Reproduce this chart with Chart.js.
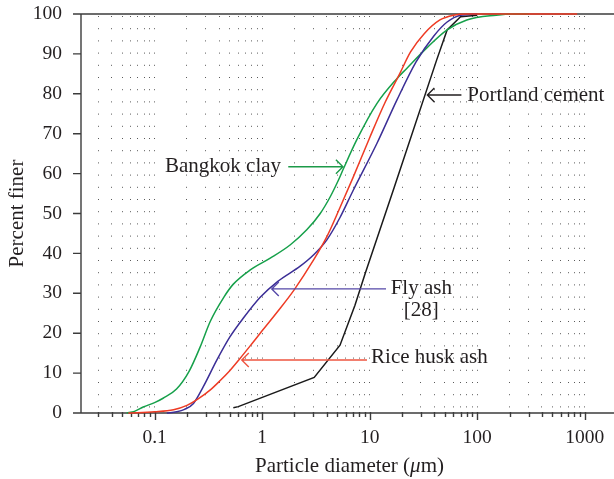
<!DOCTYPE html>
<html>
<head>
<meta charset="utf-8">
<script src="https://cdn.jsdelivr.net/npm/chart.js@4.4.1/dist/chart.umd.min.js"></script>
<style>
  html, body { margin: 0; padding: 0; background: #fff; }
  #wrap { width: 614px; height: 479px; }
</style>
</head>
<body>
<div id="wrap"><canvas id="chart"></canvas></div>
<script>
// Particle size distributions, [diameter (um), percent finer]
const riceHuskAsh = [
    [0.057, 0], [0.1, 0.3], [0.15, 0.8], [0.2, 1.9], [0.25, 3.4], [0.33, 5.8], [0.41, 8.2],
    [0.5, 10.6], [0.62, 13.6], [0.8, 17.3], [1.0, 20.6], [1.4, 25.5], [2.0, 31], [3.0, 38.3],
    [4.0, 44.2], [5.3, 51.5], [7.0, 59], [10, 69], [14, 78], [19, 85], [24, 90.5], [32, 95],
    [45, 98.5], [60, 99.7], [80, 100], [850, 100]
];
const flyAsh = [
    [0.13, 0], [0.16, 0.3], [0.19, 0.9], [0.23, 2.4], [0.284, 6.6], [0.38, 13.3], [0.5, 19],
    [0.67, 23.8], [0.96, 29], [1.4, 33], [2.26, 36.8], [3.0, 39.6],
    [4.0, 43.4], [5.3, 49], [7.0, 55.7], [11.7, 67.6], [17.9, 78.4], [27, 88],
    [39.5, 94.5], [52.5, 98], [70, 99.7], [100, 100]
];
const bangkokClay = [
    [0.055, 0], [0.065, 0.4], [0.0785, 1.5], [0.1, 2.6], [0.12, 3.7], [0.16, 6], [0.21, 10.5],
    [0.265, 16.5], [0.33, 23], [0.44, 29], [0.54, 32.3], [0.77, 35.8],
    [1.19, 38.8], [1.82, 42.1], [2.6, 45.9], [3.47, 50], [4.3, 54.2], [5.13, 58.4], [5.7, 61.2],
    [7.6, 68.5], [11.7, 77.6], [17.9, 83.8], [22, 86.3], [34, 91.5], [52.5, 96], [80, 98.5],
    [150, 99.7], [216, 100], [300, 100]
];
const portlandCement = [
    [0.54, 1.3], [0.6, 1.6], [3.05, 8.9], [5.3, 17], [7.3, 27], [9.1, 35], [16.9, 56.5],
    [42, 88.5], [52.5, 96], [70, 99.3], [100, 99.7]
];

const xTickLabels = [0.1, 1, 10, 100, 1000];
const xMin = 0.0207, xMax = 1870;
const yMin = 0, yMax = 100, yStep = 5;

// arrows + labels, positions in data units
const callouts = [
    { text: ['Portland cement'], color: '#231f20', tail: [71.3, 79.7], tip: [34.4, 79.7], at: [81, 79.7], align: 'left' },
    { text: ['Bangkok clay'], color: '#1c9a48', tail: [1.75, 61.7], tip: [5.64, 61.7], at: [1.5, 61.9], align: 'right' },
    { text: ['Fly ash', '[28]'], color: '#5548a8', tail: [14.2, 31.1], tip: [1.23, 31.1], at: [30.2, 31.1], align: 'center' },
    { text: ['Rice husk ash'], color: '#ee5540', tail: [9.44, 13.3], tip: [0.647, 13.3], at: [10.3, 14], align: 'left' }
];

const SERIF = '"Liberation Serif", "Times New Roman", serif';
const toPts = arr => arr.map(p => ({ x: p[0], y: p[1] }));

// every 1..9 x 10^n inside the axis range
function logGridValues() {
    const vals = [];
    for (let e = -2; e <= 3; e++) {
        for (let m = 1; m <= 9; m++) {
            const v = parseFloat((m * Math.pow(10, e)).toPrecision(6));
            if (v >= xMin && v <= 1000) vals.push(v);
        }
    }
    return vals;
}

const axesPlugin = {
    id: 'axesPlugin',
    beforeDatasetsDraw(chart) {
        const ctx = chart.ctx, a = chart.chartArea;
        const sx = chart.scales.x, sy = chart.scales.y;
        ctx.save();
        ctx.strokeStyle = '#3c3c3c';
        ctx.lineWidth = 1.4;
        ctx.beginPath();
        ctx.moveTo(a.left, a.top); ctx.lineTo(a.right, a.top);
        ctx.moveTo(a.left, a.top); ctx.lineTo(a.left, a.bottom);
        ctx.moveTo(a.left, a.bottom); ctx.lineTo(a.right, a.bottom);
        sx.ticks.forEach(t => {
            const px = Math.round(sx.getPixelForValue(t.value)) + 0.5;
            const len = xTickLabels.includes(t.value) ? 7 : 4;
            ctx.moveTo(px, a.bottom - 1); ctx.lineTo(px, a.bottom + len);
        });
        sy.ticks.forEach(t => {
            const py = sy.getPixelForValue(t.value);
            const len = t.value % 10 === 0 ? 8 : 4;
            ctx.moveTo(a.left - len, py); ctx.lineTo(a.left, py);
        });
        ctx.stroke();
        ctx.restore();
    },
    afterDatasetsDraw(chart) {
        const ctx = chart.ctx, a = chart.chartArea;
        const sx = chart.scales.x, sy = chart.scales.y;
        ctx.save();

        // callouts
        callouts.forEach(c => {
            const x1 = sx.getPixelForValue(c.tail[0]), y1 = sy.getPixelForValue(c.tail[1]);
            const x2 = sx.getPixelForValue(c.tip[0]), y2 = sy.getPixelForValue(c.tip[1]);
            const dir = Math.sign(x2 - x1);
            ctx.strokeStyle = c.color;
            ctx.lineWidth = 1.4;
            ctx.beginPath();
            ctx.moveTo(x1, y1); ctx.lineTo(x2, y2);
            ctx.moveTo(x2 - dir * 7, y2 - 7); ctx.lineTo(x2, y2); ctx.lineTo(x2 - dir * 7, y2 + 7);
            ctx.stroke();

            ctx.fillStyle = '#231f20';
            ctx.font = '21px ' + SERIF;
            ctx.textAlign = c.align;
            ctx.textBaseline = 'middle';
            const tx = sx.getPixelForValue(c.at[0]), ty = sy.getPixelForValue(c.at[1]);
            c.text.forEach((line, i) => ctx.fillText(line, tx, ty + i * 22));
        });

        // axis titles
        ctx.fillStyle = '#231f20';
        ctx.textBaseline = 'alphabetic';
        const parts = [['Particle diameter (', ''], ['\u03bc', 'italic '], ['m)', '']];
        let total = 0;
        parts.forEach(p => { ctx.font = p[1] + '21px ' + SERIF; total += ctx.measureText(p[0]).width; });
        let x = (a.left + a.right) / 2 + 2 - total / 2;
        ctx.textAlign = 'left';
        parts.forEach(p => {
            ctx.font = p[1] + '21px ' + SERIF;
            ctx.fillText(p[0], x, 472);
            x += ctx.measureText(p[0]).width;
        });

        ctx.translate(23, (a.top + a.bottom) / 2);
        ctx.rotate(-Math.PI / 2);
        ctx.textAlign = 'center';
        ctx.font = '21px ' + SERIF;
        ctx.fillText('Percent finer', 0, 0);
        ctx.restore();
    }
};

const lineStyle = (color, data, smooth) => ({
    data: toPts(data),
    borderColor: color,
    borderWidth: 1.5,
    pointRadius: 0,
    showLine: true,
    fill: false,
    clip: 4,
    tension: 0,
    cubicInterpolationMode: smooth ? 'monotone' : 'default'
});

new Chart(document.getElementById('chart'), {
    type: 'scatter',
    data: {
        datasets: [
            Object.assign({ label: 'Rice husk ash' }, lineStyle('#ee3b24', riceHuskAsh, true)),
            Object.assign({ label: 'Fly ash [28]' }, lineStyle('#3b2e96', flyAsh, true)),
            Object.assign({ label: 'Bangkok clay' }, lineStyle('#16a04a', bangkokClay, true)),
            Object.assign({ label: 'Portland cement' }, lineStyle('#1a1a1a', portlandCement, false))
        ]
    },
    options: {
        responsive: true,
        maintainAspectRatio: false,
        animation: false,
        layout: { padding: { top: 14, right: 0, left: 0, bottom: 0 } },
        plugins: { legend: { display: false }, tooltip: { enabled: false } },
        scales: {
            x: {
                type: 'logarithmic',
                min: xMin,
                max: xMax,
                afterBuildTicks: scale => { scale.ticks = logGridValues().map(v => ({ value: v })); },
                afterFit: scale => { scale.height = 66; scale.paddingLeft = 0; scale.paddingRight = 0; },
                ticks: {
                    autoSkip: false,
                    maxRotation: 0,
                    padding: 13,
                    color: '#231f20',
                    font: { family: SERIF, size: 19.5 },
                    callback: v => xTickLabels.includes(v) ? String(v) : ''
                },
                grid: { display: true, color: '#5a5a5a', lineWidth: 1, drawTicks: false },
                border: { display: false, dash: [1, 11.2], dashOffset: -2 }
            },
            y: {
                min: yMin,
                max: yMax,
                afterFit: scale => { scale.width = 81; scale.paddingTop = 0; scale.paddingBottom = 0; },
                ticks: {
                    stepSize: yStep,
                    padding: 19,
                    color: '#231f20',
                    font: { family: SERIF, size: 19.5 },
                    callback: v => v % 10 === 0 ? String(v) : ''
                },
                grid: { display: false, drawTicks: false },
                border: { display: false }
            }
        }
    },
    plugins: [axesPlugin]
});
</script>
</body>
</html>
